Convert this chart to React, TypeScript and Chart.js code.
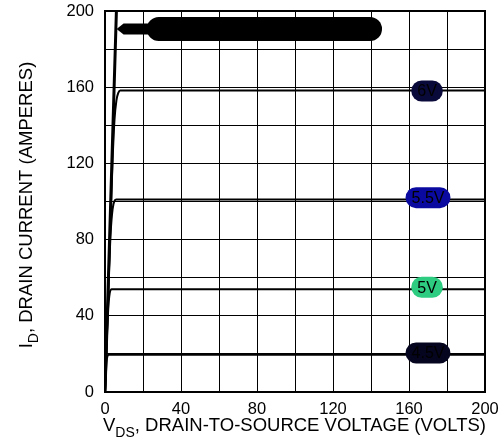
import React, { useEffect, useRef } from "react";
import { Chart, registerables } from "chart.js";

Chart.register(...registerables);

// Curve data (VDS volts, ID amperes)
const vgs10X = [0, 6];
const vgs10Y = [0, 200];
const vgs6X = [0, 2, 4, 5, 6, 7, 8, 200];
const vgs6Y = [0, 62, 122, 143, 153, 157, 158.3, 158.3];
const vgs55X = [0, 2, 3, 4, 5, 6, 200];
const vgs55Y = [0, 60, 84, 96, 100.3, 101, 101];
const vgs5X = [0, 1.5, 2.5, 3.5, 200];
const vgs5Y = [0, 40, 52, 54, 54];
const vgs45X = [0, 1, 2, 200];
const vgs45Y = [0, 17.5, 19.6, 19.6];

// Curve labels
const labelTexts = ["6V", "5.5V", "5V", "4.5V"];
const labelV = [169.5, 170, 169.5, 170];
const labelI = [158, 102, 55, 20.5];
const labelColors = ["#0a0a3a", "#0a0aa0", "#2ecc80", "#05051f"];

// Callout for the top curve
const calloutText = "VGS = 10V";
const calloutTipV = 6.1;
const calloutStartV = 22;
const calloutEndV = 145.8;
const calloutI = 190.5;

const xTicks = [0, 40, 80, 120, 160, 200];
const yTicks = [0, 40, 80, 120, 160, 200];

const FONT = '"Liberation Sans", Arial, Helvetica, sans-serif';

function pts(xs: number[], ys: number[]) {
  return xs.map((x, i) => ({ x, y: ys[i] }));
}

const overlay = {
  id: "overlay",
  afterDatasetsDraw(chart: any) {
    const ctx = chart.ctx;
    const xs = chart.scales.x;
    const ys = chart.scales.y;
    const ca = chart.chartArea;
    ctx.save();
    // frame
    ctx.strokeStyle = "#000";
    ctx.lineWidth = 2;
    ctx.strokeRect(ca.left, ca.top, ca.right - ca.left, ca.bottom - ca.top);

    // callout
    const cy = ys.getPixelForValue(calloutI);
    const tipX = xs.getPixelForValue(calloutTipV);
    const sX = xs.getPixelForValue(calloutStartV);
    const eX = xs.getPixelForValue(calloutEndV);
    const h = 24;
    const bh = 11;
    ctx.fillStyle = "#000";
    ctx.beginPath();
    ctx.moveTo(tipX, cy);
    ctx.lineTo(tipX + 7, cy - bh / 2);
    ctx.lineTo(sX + 6, cy - bh / 2);
    ctx.lineTo(sX + 6, cy + bh / 2);
    ctx.lineTo(tipX + 7, cy + bh / 2);
    ctx.closePath();
    ctx.fill();
    ctx.beginPath();
    (ctx as any).roundRect(sX, cy - h / 2, eX - sX, h, h / 2);
    ctx.fill();
    ctx.font = `16px ${FONT}`;
    ctx.textAlign = "center";
    ctx.textBaseline = "middle";
    ctx.fillStyle = "#000";
    ctx.fillText(calloutText, (sX + eX) / 2, cy + 1);

    // labels
    labelTexts.forEach((t, i) => {
      const px = xs.getPixelForValue(labelV[i]);
      const py = ys.getPixelForValue(labelI[i]);
      ctx.font = `16px ${FONT}`;
      const w = ctx.measureText(t).width + 12;
      const hh = 21;
      ctx.fillStyle = labelColors[i];
      ctx.beginPath();
      (ctx as any).roundRect(px - w / 2, py - hh / 2, w, hh, hh / 2);
      ctx.fill();
      ctx.fillStyle = "#000";
      ctx.fillText(t, px, py + 1);
    });

    // axis titles
    ctx.textAlign = "left";
    ctx.textBaseline = "alphabetic";
    const big = 18.5;
    const small = 14;
    // x title
    let x = 103;
    const by = 431;
    ctx.font = `${big}px ${FONT}`;
    ctx.fillText("V", x, by);
    x += ctx.measureText("V").width;
    ctx.font = `${small}px ${FONT}`;
    ctx.fillText("DS", x, by + 6);
    x += ctx.measureText("DS").width;
    ctx.font = `${big}px ${FONT}`;
    ctx.fillText(", DRAIN-TO-SOURCE VOLTAGE (VOLTS)", x, by);

    // y title
    ctx.translate(32, 205);
    ctx.rotate(-Math.PI / 2);
    ctx.font = `${big}px ${FONT}`;
    const main = ", DRAIN CURRENT (AMPERES)";
    const wI = ctx.measureText("I").width;
    const wMain = ctx.measureText(main).width;
    ctx.font = `${small}px ${FONT}`;
    const wD = ctx.measureText("D").width;
    const total = wI + wD + wMain;
    let yx = -total / 2;
    ctx.font = `${big}px ${FONT}`;
    ctx.fillText("I", yx, 0);
    yx += wI;
    ctx.font = `${small}px ${FONT}`;
    ctx.fillText("D", yx, 6);
    yx += wD;
    ctx.font = `${big}px ${FONT}`;
    ctx.fillText(main, yx, 0);
    ctx.restore();
  },
};

export default function App() {
  const ref = useRef<HTMLCanvasElement>(null);
  useEffect(() => {
    if (!ref.current) return;
    const ds = (xs: number[], ys: number[], w: number) => ({
      data: pts(xs, ys),
      borderColor: "#000",
      borderWidth: w,
      pointRadius: 0,
      showLine: true,
      fill: false,
      cubicInterpolationMode: "monotone" as const,
    });
    const chart = new Chart(ref.current, {
      type: "scatter",
      data: {
        datasets: [
          ds(vgs45X, vgs45Y, 2),
          ds(vgs5X, vgs5Y, 2),
          ds(vgs55X, vgs55Y, 2),
          ds(vgs6X, vgs6Y, 2),
          ds(vgs10X, vgs10Y, 3),
        ],
      },
      options: {
        animation: false,
        responsive: true,
        maintainAspectRatio: false,
        layout: { padding: { top: 11, right: 18, left: 0, bottom: 0 } },
        plugins: { legend: { display: false }, tooltip: { enabled: false } },
        scales: {
          x: {
            type: "linear",
            min: 0,
            max: 200,
            afterFit: (s: any) => {
              s.height = 49;
              s.paddingLeft = 0;
              s.paddingRight = 0;
            },
            afterBuildTicks: (s: any) => {
              const t = [];
              for (let v = 0; v <= 200; v += 20) t.push({ value: v });
              s.ticks = t;
            },
            ticks: {
              autoSkip: false,
              maxRotation: 0,
              padding: 8,
              color: "#000",
              font: { family: FONT, size: 16.5 },
              callback: (v: any) => (xTicks.includes(Number(v)) ? String(v) : ""),
            },
            grid: { color: "#000", lineWidth: 1, drawTicks: false },
            border: { display: false },
          },
          y: {
            type: "linear",
            min: 0,
            max: 200,
            afterFit: (s: any) => {
              s.width = 105;
              s.paddingTop = 0;
              s.paddingBottom = 0;
            },
            afterBuildTicks: (s: any) => {
              const t = [];
              for (let v = 0; v <= 200; v += 20) t.push({ value: v });
              s.ticks = t;
            },
            ticks: {
              autoSkip: false,
              padding: 11,
              color: "#000",
              font: { family: FONT, size: 16.5 },
              callback: (v: any) => (yTicks.includes(Number(v)) ? String(v) : ""),
            },
            grid: { color: "#000", lineWidth: 1, drawTicks: false },
            border: { display: false },
          },
        },
      },
      plugins: [overlay],
    });
    return () => chart.destroy();
  }, []);
  return (
    <div style={{ position: "fixed", left: 0, top: 0, width: 503, height: 441, background: "#fff" }}>
      <canvas ref={ref} />
    </div>
  );
}
